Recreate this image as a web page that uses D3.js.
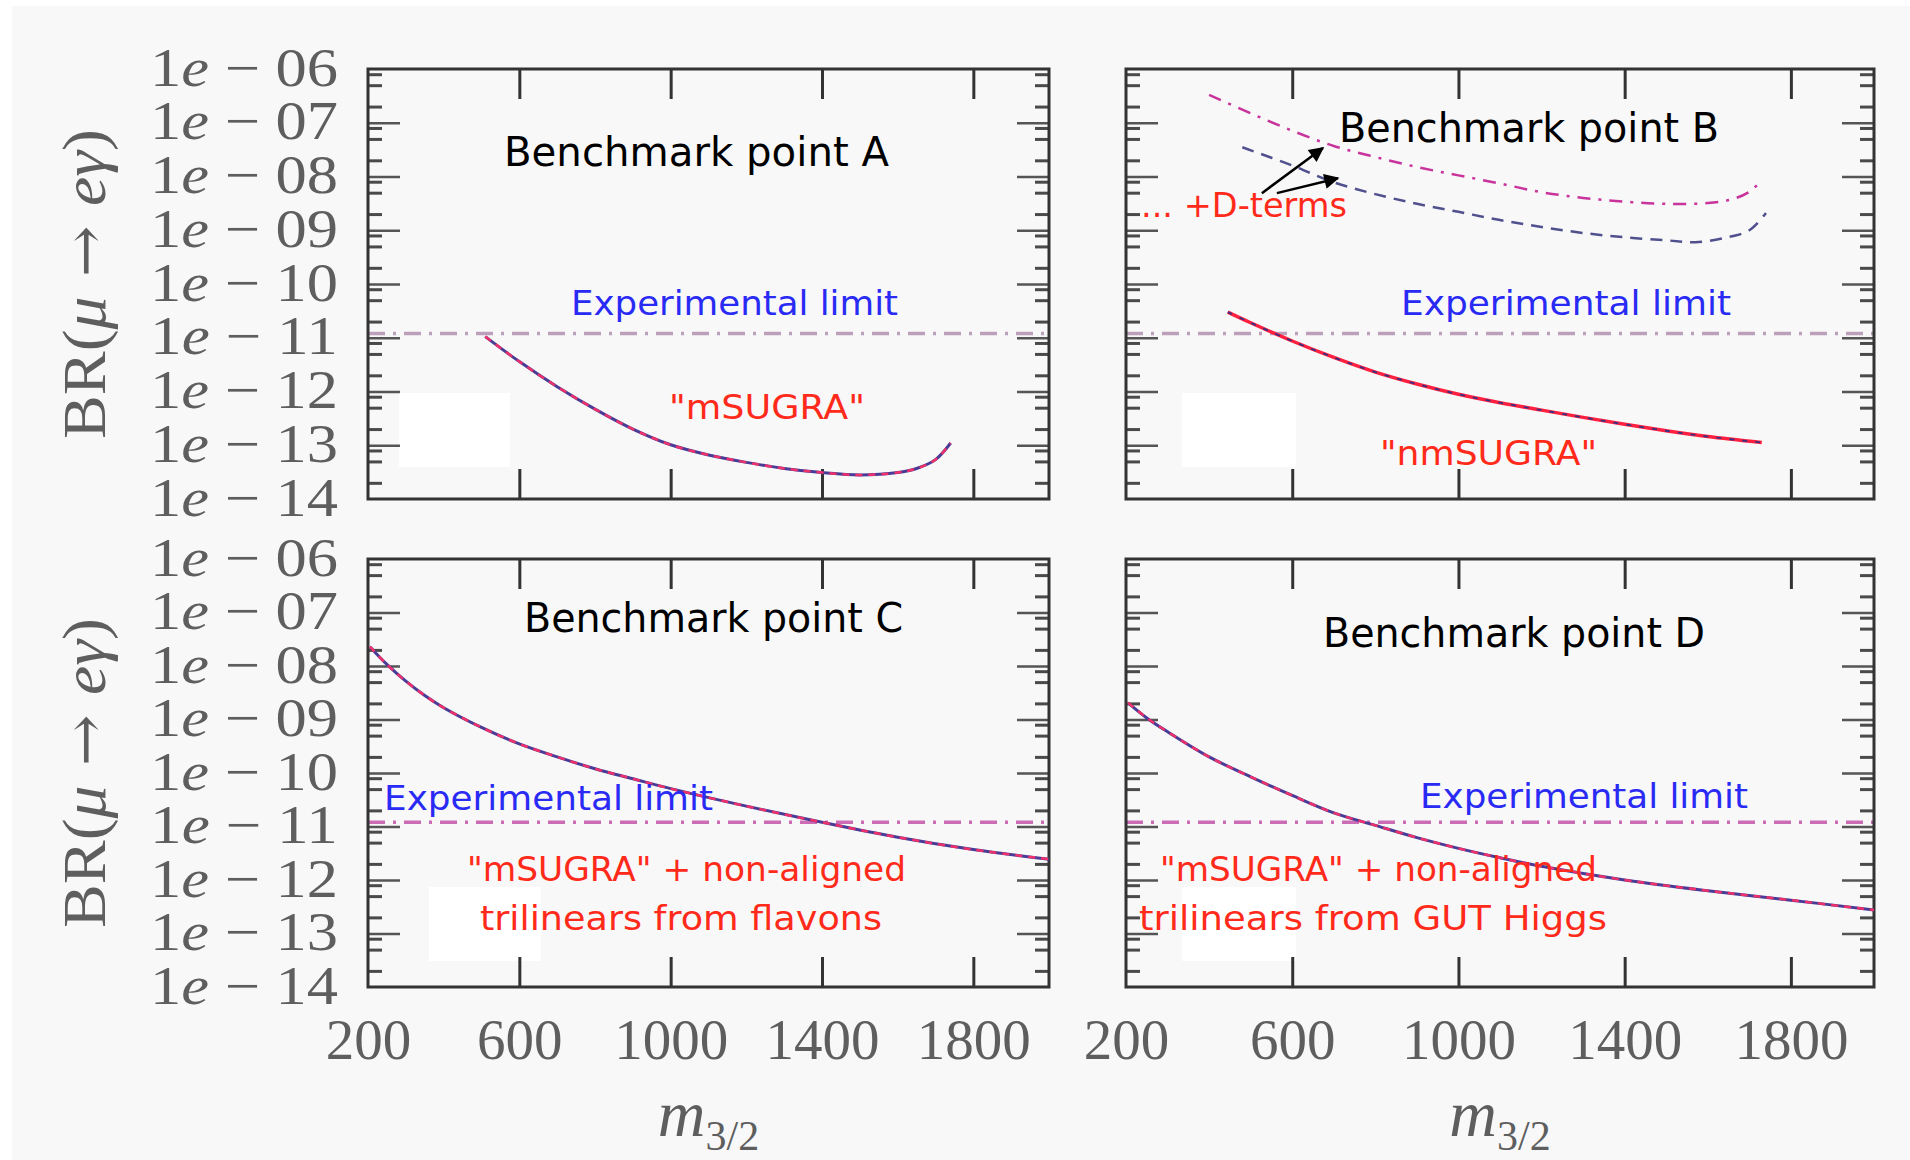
<!DOCTYPE html>
<html>
<head>
<meta charset="utf-8">
<script src="https://cdn.jsdelivr.net/npm/d3@7"></script>
<style>
  html, body { margin: 0; padding: 0; background: #fff; }
  svg { display: block; }
</style>
</head>
<body>
<div id="chart"></div>
<script>
// ---- data ----
const xTickLabels = [200, 600, 1000, 1400, 1800];
const yTickValues = [1e-6, 1e-7, 1e-8, 1e-9, 1e-10, 1e-11, 1e-12, 1e-13, 1e-14];
const yTickExps = ['06', '07', '08', '09', '10', '11', '12', '13', '14'];
const expLimit = 1.2e-11;

// A : "mSUGRA"
const massA = [510, 600, 700, 800, 900, 1000, 1100, 1200, 1300, 1400, 1500, 1600, 1650, 1700, 1740];
const brA = [1.05e-11, 3.6e-12, 1.23e-12, 4.7e-13, 2.0e-13, 1.02e-13, 6.6e-14, 4.8e-14, 3.7e-14, 3.1e-14, 2.8e-14, 3.1e-14, 3.7e-14, 5.4e-14, 1.1e-13];

// B : "nmSUGRA" and the two "+D-terms" curves
const massB = [445, 500, 600, 700, 800, 900, 1000, 1100, 1200, 1300, 1400, 1500, 1600, 1730];
const brB = [3.0e-11, 1.9e-11, 8.7e-12, 4.3e-12, 2.3e-12, 1.38e-12, 8.9e-13, 6.2e-13, 4.5e-13, 3.3e-13, 2.45e-13, 1.86e-13, 1.45e-13, 1.12e-13];
const massBd1 = [400, 500, 600, 700, 800, 900, 1000, 1100, 1200, 1300, 1400, 1500, 1600, 1660, 1700, 1730];
const brBd1 = [3.3e-7, 1.5e-7, 7.1e-8, 3.7e-8, 2.3e-8, 1.5e-8, 1.05e-8, 7.4e-9, 5.1e-9, 4.0e-9, 3.4e-9, 3.1e-9, 3.2e-9, 3.8e-9, 5.2e-9, 8.5e-9];
const massBd2 = [480, 600, 700, 800, 900, 1000, 1100, 1200, 1300, 1400, 1500, 1570, 1640, 1700, 1740];
const brBd2 = [3.5e-8, 1.6e-8, 7.8e-9, 4.7e-9, 3.1e-9, 2.2e-9, 1.55e-9, 1.15e-9, 8.9e-10, 7.4e-10, 6.5e-10, 6.0e-10, 7.2e-10, 1.0e-9, 2.1e-9];

// C : non-aligned trilinears from flavons
const massC = [205, 250, 300, 350, 400, 500, 600, 700, 800, 900, 1000, 1200, 1400, 1600, 1800, 2000];
const brC = [2.3e-8, 1.07e-8, 5.2e-9, 2.8e-9, 1.66e-9, 7.1e-10, 3.5e-10, 2.0e-10, 1.2e-10, 7.8e-11, 5.1e-11, 2.4e-11, 1.2e-11, 6.3e-12, 3.7e-12, 2.45e-12];

// D : non-aligned trilinears from GUT Higgs
const massD = [205, 250, 300, 400, 500, 600, 700, 800, 900, 1000, 1100, 1200, 1400, 1600, 1800, 2000];
const brD = [2.05e-9, 1.07e-9, 5.9e-10, 2.0e-10, 8.5e-11, 3.8e-11, 1.8e-11, 1.05e-11, 6.2e-12, 3.9e-12, 2.6e-12, 1.8e-12, 1.0e-12, 6.3e-13, 4.2e-13, 2.75e-13];

// arrows of the "+D-terms" note, in data units [mass, BR]
const arrowTails = [[527, 4.9e-9], [563, 4.9e-9]];
const arrowTips = [[674, 3.4e-8], [710, 9.3e-9]];

const zip = (xs, ys) => xs.map((m, i) => [m, ys[i]]);

// ---- layout ----
const width = 1910;
const height = 1160;
const serif = '"Liberation Serif", "DejaVu Serif", serif';
const hand = '"DejaVu Sans", sans-serif';

const panels = [
  { id: 'A', left: 368, right: 1049, top: 69, bottom: 499, limit: '#bb9fbb', patch: [399, 393, 111, 74], yLabels: true },
  { id: 'B', left: 1126, right: 1874, top: 69, bottom: 499, limit: '#bb9fbb', patch: [1182, 393, 114, 74] },
  { id: 'C', left: 368, right: 1049, top: 559, bottom: 987, limit: '#cc6cb4', patch: [429, 887, 112, 74], yLabels: true, xLabels: true },
  { id: 'D', left: 1126, right: 1874, top: 559, bottom: 987, limit: '#cc6cb4', patch: [1182, 887, 114, 74], xLabels: true }
];

const svg = d3.select('#chart')
  .append('svg')
  .attr('width', width)
  .attr('height', height);

svg.append('rect').attr('width', width).attr('height', height).attr('fill', '#fff');
svg.append('rect').attr('x', 12).attr('y', 6).attr('width', width - 12).attr('height', height - 6).attr('fill', '#f8f8f8');

const defs = svg.append('defs');
defs.append('marker')
  .attr('id', 'arrowhead')
  .attr('viewBox', '0 0 10 10')
  .attr('refX', 9)
  .attr('refY', 5)
  .attr('markerWidth', 6.5)
  .attr('markerHeight', 6)
  .attr('markerUnits', 'strokeWidth')
  .attr('orient', 'auto')
  .append('path')
  .attr('d', 'M0,0 L10,5 L0,10 z')
  .attr('fill', '#000');

const styleTicks = (sel, color, w) => {
  sel.select('.domain').remove();
  sel.selectAll('.tick line').attr('stroke', color).attr('stroke-width', w);
};

const note = (g, txt, x0, x1, y, size, color) => {
  g.append('text')
    .attr('x', x0)
    .attr('y', y)
    .attr('textLength', x1 - x0)
    .attr('lengthAdjust', 'spacingAndGlyphs')
    .attr('font-family', hand)
    .attr('font-size', size)
    .attr('fill', color)
    .text(txt);
};

const drawPanel = p => {
  const x = d3.scaleLinear().domain([200, 2000]).range([p.left, p.right]);
  const y = d3.scaleLog().domain([1e-14, 1e-6]).range([p.bottom, p.top]);
  const g = svg.append('g').attr('class', `panel panel-${p.id}`);

  // blank patch where a legend was erased
  g.append('rect')
    .attr('x', p.patch[0]).attr('y', p.patch[1])
    .attr('width', p.patch[2]).attr('height', p.patch[3])
    .attr('fill', '#fff');

  // y ticks : decades long, 2/5/8 short, on both sides
  const decades = yTickValues.slice(1, -1);
  const minor = y.ticks().filter(v => {
    const lead = Math.round(v / Math.pow(10, Math.floor(Math.log10(v) + 1e-9)));
    return lead === 2 || lead === 5 || lead === 8;
  });

  g.append('g').attr('transform', `translate(${p.left},0)`)
    .call(d3.axisLeft(y).tickValues(minor).tickSize(-14).tickFormat(''))
    .call(s => styleTicks(s, '#4a4a4a', 3));
  g.append('g').attr('transform', `translate(${p.left},0)`)
    .call(d3.axisLeft(y).tickValues(decades).tickSize(-32).tickFormat(''))
    .call(s => styleTicks(s, '#555', 2.5));
  g.append('g').attr('transform', `translate(${p.right},0)`)
    .call(d3.axisRight(y).tickValues(minor).tickSize(-14).tickFormat(''))
    .call(s => styleTicks(s, '#4a4a4a', 3));
  g.append('g').attr('transform', `translate(${p.right},0)`)
    .call(d3.axisRight(y).tickValues(decades).tickSize(-32).tickFormat(''))
    .call(s => styleTicks(s, '#555', 2.5));

  // x ticks top and bottom
  const xInner = xTickLabels.slice(1);
  g.append('g').attr('transform', `translate(0,${p.bottom})`)
    .call(d3.axisBottom(x).tickValues(xInner).tickSize(-30).tickFormat(''))
    .call(s => styleTicks(s, '#333', 3));
  g.append('g').attr('transform', `translate(0,${p.top})`)
    .call(d3.axisTop(x).tickValues(xInner).tickSize(-30).tickFormat(''))
    .call(s => styleTicks(s, '#333', 3));

  // experimental limit
  g.append('line')
    .attr('x1', x(200)).attr('x2', x(2000))
    .attr('y1', y(expLimit)).attr('y2', y(expLimit))
    .attr('stroke', p.limit)
    .attr('stroke-width', 3.5)
    .attr('stroke-dasharray', '17,8,3,8');

  // frame
  g.append('rect')
    .attr('x', p.left).attr('y', p.top)
    .attr('width', p.right - p.left).attr('height', p.bottom - p.top)
    .attr('fill', 'none')
    .attr('stroke', '#333')
    .attr('stroke-width', 3);

  if (p.yLabels) {
    const ax = g.append('g').attr('transform', `translate(${p.left},0)`)
      .call(d3.axisLeft(y).tickValues(yTickValues).tickSize(0).tickPadding(30).tickFormat(''));
    ax.select('.domain').remove();
    ax.selectAll('.tick text')
      .attr('font-family', serif)
      .attr('font-size', 54)
      .attr('fill', '#5e5e5e')
      .attr('dy', '0.3em')
      .attr('textLength', 188)
      .attr('lengthAdjust', 'spacingAndGlyphs')
      .each(function (d, i) {
        const t = d3.select(this);
        t.append('tspan').text('1');
        t.append('tspan').attr('font-style', 'italic').text('e');
        t.append('tspan').text(' \u2212 ');
        t.append('tspan').text(yTickExps[i]);
      });

    g.append('text')
      .attr('transform', `translate(105,${(p.top + p.bottom) / 2}) rotate(-90)`)
      .attr('text-anchor', 'middle')
      .attr('font-family', serif)
      .attr('font-size', 62)
      .attr('fill', '#5e5e5e')
      .attr('textLength', 310)
      .attr('lengthAdjust', 'spacingAndGlyphs')
      .call(t => {
        t.append('tspan').text('BR(');
        t.append('tspan').attr('font-style', 'italic').text('\u03bc');
        t.append('tspan').attr('font-family', '"DejaVu Serif", serif').attr('font-size', 58).text(' \u2192 ');
        t.append('tspan').attr('font-style', 'italic').text('e\u03b3');
        t.append('tspan').text(')');
      });
  }

  if (p.xLabels) {
    const ax = g.append('g').attr('transform', `translate(0,${p.bottom})`)
      .call(d3.axisBottom(x).tickValues(xTickLabels).tickSize(0).tickPadding(32).tickFormat(d3.format('d')));
    ax.select('.domain').remove();
    ax.selectAll('.tick text')
      .attr('font-family', serif)
      .attr('font-size', 57)
      .attr('fill', '#5e5e5e');

    g.append('text')
      .attr('x', (p.left + p.right) / 2)
      .attr('y', 1136)
      .attr('text-anchor', 'middle')
      .attr('font-family', serif)
      .attr('fill', '#5e5e5e')
      .call(t => {
        t.append('tspan').attr('font-style', 'italic').attr('font-size', 66).text('m');
        t.append('tspan').attr('font-size', 42).attr('dy', 14).text('3/2');
      });
  }

  return { x, y, g };
};

const line = (x, y) => d3.line()
  .x(d => x(d[0]))
  .y(d => y(d[1]))
  .curve(d3.curveCatmullRom.alpha(0.5));

// overlapping red / blue curves (look purple)
const twinCurve = (pan, pts) => {
  const l = line(pan.x, pan.y);
  pan.g.append('path').datum(pts)
    .attr('d', l).attr('fill', 'none')
    .attr('stroke', '#4a3c96').attr('stroke-width', 3);
  pan.g.append('path').datum(pts)
    .attr('d', l).attr('fill', 'none')
    .attr('stroke', '#f0306a').attr('stroke-width', 2.5)
    .attr('stroke-dasharray', '7,6');
};

// ---- panel A ----
const pA = drawPanel(panels[0]);
twinCurve(pA, zip(massA, brA));
note(pA.g, 'Benchmark point A', 504, 889, 166, 40, '#000');
note(pA.g, 'Experimental limit', 571, 898, 315, 34, '#2a2af5');
note(pA.g, '"mSUGRA"', 669, 865, 419, 34, '#ff2a1a');

// ---- panel B ----
const pB = drawPanel(panels[1]);
{
  const l = line(pB.x, pB.y);
  pB.g.append('path').datum(zip(massBd1, brBd1))
    .attr('d', l).attr('fill', 'none')
    .attr('stroke', '#c8339c').attr('stroke-width', 2.5)
    .attr('stroke-dasharray', '13,8,3,8');
  pB.g.append('path').datum(zip(massBd2, brBd2))
    .attr('d', l).attr('fill', 'none')
    .attr('stroke', '#50508e').attr('stroke-width', 2.5)
    .attr('stroke-dasharray', '12,8');
  pB.g.append('path').datum(zip(massB, brB))
    .attr('d', l).attr('fill', 'none')
    .attr('stroke', '#ff2040').attr('stroke-width', 3.5);
  pB.g.append('path').datum(zip(massB, brB))
    .attr('d', l).attr('fill', 'none')
    .attr('stroke', '#3a2f80').attr('stroke-width', 1.8)
    .attr('stroke-dasharray', '5,8');

  pB.g.selectAll('.dterm-arrow')
    .data(arrowTails.map((t, i) => [t, arrowTips[i]]))
    .enter()
    .append('line')
    .attr('class', 'dterm-arrow')
    .attr('x1', d => pB.x(d[0][0])).attr('y1', d => pB.y(d[0][1]))
    .attr('x2', d => pB.x(d[1][0])).attr('y2', d => pB.y(d[1][1]))
    .attr('stroke', '#000')
    .attr('stroke-width', 2.5)
    .attr('marker-end', 'url(#arrowhead)');
}
note(pB.g, 'Benchmark point B', 1339, 1719, 142, 40, '#000');
note(pB.g, '... +D-terms', 1141, 1347, 217, 34, '#ff2a1a');
note(pB.g, 'Experimental limit', 1401, 1731, 315, 34, '#2a2af5');
note(pB.g, '"nmSUGRA"', 1380, 1597, 465, 34, '#ff2a1a');

// ---- panel C ----
const pC = drawPanel(panels[2]);
twinCurve(pC, zip(massC, brC));
note(pC.g, 'Benchmark point C', 524, 903, 632, 40, '#000');
note(pC.g, 'Experimental limit', 384, 713, 810, 34, '#2a2af5');
note(pC.g, '"mSUGRA" + non-aligned', 467, 906, 881, 34, '#ff2a1a');
note(pC.g, 'trilinears from flavons', 480, 882, 930, 34, '#ff2a1a');

// ---- panel D ----
const pD = drawPanel(panels[3]);
twinCurve(pD, zip(massD, brD));
note(pD.g, 'Benchmark point D', 1323, 1705, 647, 40, '#000');
note(pD.g, 'Experimental limit', 1420, 1748, 808, 34, '#2a2af5');
note(pD.g, '"mSUGRA" + non-aligned', 1160, 1597, 881, 34, '#ff2a1a');
note(pD.g, 'trilinears from GUT Higgs', 1139, 1607, 930, 34, '#ff2a1a');
</script>
</body>
</html>
